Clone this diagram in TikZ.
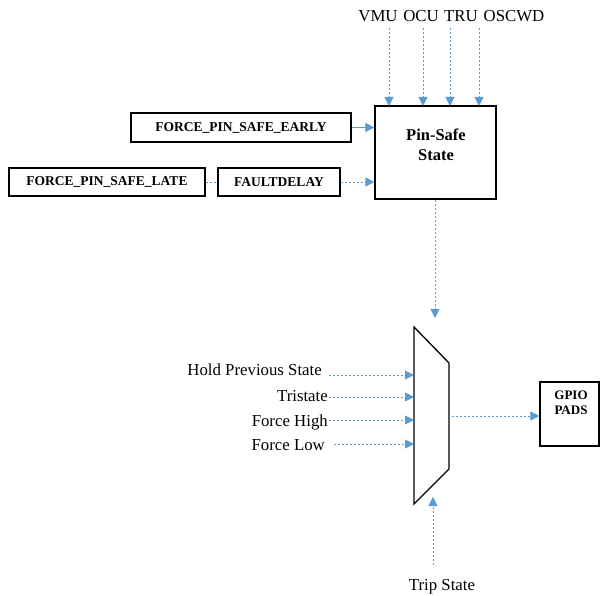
\documentclass[tikz,border=0pt]{standalone}
\usepackage{fontspec}
\setmainfont{Liberation Serif}
\usetikzlibrary{arrows.meta}
\definecolor{arrowblue}{HTML}{5B9BD5}
\begin{document}
\begin{tikzpicture}[x=1pt,y=-1pt,
  blk/.style={draw=black,line width=1.3pt,inner sep=0pt,font=\fontsize{13.5}{15}\selectfont\bfseries},
  lbl/.style={inner sep=0pt,font=\fontsize{16.8}{18}\selectfont},
  conn/.style={draw=arrowblue,line width=0.8pt,dash pattern=on 2pt off 2pt},
  arr/.style={conn,-{Triangle[length=9pt,width=9pt]}},
  sarr/.style={draw=arrowblue,line width=0.9pt,-{Triangle[length=9pt,width=9pt]}}]
\useasboundingbox (0,0) rectangle (600,596);
% Pin-safe state box
\node[blk,minimum width=121pt,minimum height=93pt] (ps) at (435.5,152.5) {};
\node[inner sep=0pt,align=center,font=\fontsize{16.5}{20}\selectfont\bfseries] (pstxt) at (436,145) {Pin-Safe\\State};
% top labels
\node[lbl,anchor=base] (vmu) at (378,22) {VMU};
\node[lbl,anchor=base] (ocu) at (421,22) {OCU};
\node[lbl,anchor=base] (tru) at (461,22) {TRU};
\node[lbl,anchor=base] (osc) at (514,22) {OSCWD};
\coordinate (vmuS) at (389,28); \coordinate (vmuE) at (389,106);
\coordinate (ocuS) at (423,28); \coordinate (ocuE) at (423,106);
\coordinate (truS) at (450,28); \coordinate (truE) at (450,106);
\coordinate (oscS) at (479,28); \coordinate (oscE) at (479,106);
\draw[arr] (vmuS) -- (vmuE);
\draw[arr] (ocuS) -- (ocuE);
\draw[arr] (truS) -- (truE);
\draw[arr] (oscS) -- (oscE);
% force boxes
\node[blk,minimum width=220pt,minimum height=29pt] (early) at (241,127.5) {FORCE\_PIN\_SAFE\_EARLY};
\node[blk,minimum width=196pt,minimum height=28pt] (late) at (107,182) {FORCE\_PIN\_SAFE\_LATE};
\node[blk,minimum width=122pt,minimum height=28pt] (fd) at (279,182) {FAULTDELAY};
\draw[sarr] (early.east) -- (ps.west |- early.east);
\draw[conn] (late.east) -- (fd.west);
\draw[arr] (fd.east) -- (ps.west |- fd.east);
% mux
\coordinate (m1) at (414,327);
\coordinate (m2) at (449,363);
\coordinate (m3) at (449,469);
\coordinate (m4) at (414,504);
\draw[line width=1.3pt,line join=miter] (m1) -- (m2) -- (m3) -- (m4) -- cycle;
\coordinate (psEnd) at (435,318);
\draw[arr] (ps.south -| psEnd) -- (psEnd);
% mux inputs
\node[lbl,anchor=base east] (hold) at (322,375) {Hold Previous State};
\node[lbl,anchor=base east] (tri) at (328,401.5) {Tristate};
\node[lbl,anchor=base east] (fh) at (328,426) {Force High};
\node[lbl,anchor=base east] (fl) at (325,450.5) {Force Low};
\coordinate (in1s) at (329,375); \coordinate (in1) at (414,375);
\coordinate (in2s) at (329,397); \coordinate (in2) at (414,397);
\coordinate (in3s) at (329,420); \coordinate (in3) at (414,420);
\coordinate (in4s) at (334,444); \coordinate (in4) at (414,444);
\draw[arr] (in1s) -- (in1);
\draw[arr] (in2s) -- (in2);
\draw[arr] (in3s) -- (in3);
\draw[arr] (in4s) -- (in4);
% GPIO
\node[blk,minimum width=59pt,minimum height=64pt] (gpio) at (569.5,414) {};
\node[inner sep=0pt,align=center,font=\fontsize{13}{15.5}\selectfont\bfseries] (gpiotxt) at (571,403) {GPIO\\PADS};
\coordinate (muxOut) at (452,416);
\draw[arr] (muxOut) -- (gpio.west |- muxOut);
% trip state
\node[lbl,anchor=base] (trip) at (442,590) {Trip State};
\coordinate (tripS) at (433,565); \coordinate (tripE) at (433,497);
\draw[arr] (tripS) -- (tripE);
\end{tikzpicture}
\end{document}
